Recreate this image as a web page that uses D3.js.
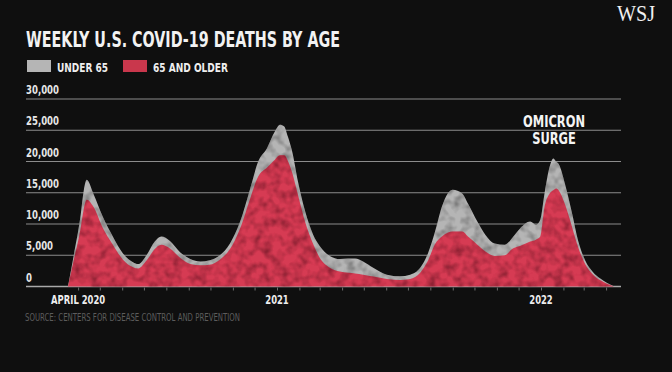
<!DOCTYPE html>
<html>
<head>
<meta charset="utf-8">
<script src="https://cdn.jsdelivr.net/npm/d3@7"></script>
<style>
  html, body { margin: 0; padding: 0; background: #0f0f0f; }
  svg { display: block; }
</style>
</head>
<body>
<svg id="chart" width="672" height="372"></svg>
<script>
// ---- data ----
const weeks = [
  "2020-03-18","2020-03-26","2020-04-04","2020-04-09","2020-04-13","2020-04-22","2020-05-05","2020-05-19","2020-06-02","2020-06-16",
  "2020-06-23","2020-07-05","2020-07-16","2020-07-25","2020-08-06","2020-08-20","2020-09-03","2020-09-17","2020-09-30","2020-10-14",
  "2020-10-28","2020-11-11","2020-11-25","2020-12-06","2020-12-18","2020-12-29","2021-01-05","2021-01-11","2021-01-16","2021-01-22",
  "2021-01-30","2021-02-09","2021-02-20","2021-03-01","2021-03-15","2021-03-29","2021-04-09","2021-04-19","2021-04-30","2021-05-14",
  "2021-06-02","2021-06-20","2021-07-04","2021-07-18","2021-07-29","2021-08-07","2021-08-17","2021-08-25","2021-09-01","2021-09-14",
  "2021-09-22","2021-10-05","2021-10-16","2021-10-29","2021-11-12","2021-11-23","2021-12-03","2021-12-17","2021-12-25","2021-12-31",
  "2022-01-06","2022-01-13","2022-01-18","2022-01-22","2022-01-26","2022-02-03","2022-02-13","2022-02-21","2022-03-03","2022-03-14",
  "2022-03-24","2022-04-02","2022-04-11"
];
const age65Plus = [
  0,4200,9000,12500,13900,12800,9400,6700,4300,3100,
  2900,4200,6000,6700,6100,4600,3600,3400,3500,4300,
  6000,9300,14100,17600,19000,20300,21000,21000,20100,18200,
  14650,10300,6800,4600,3000,2400,2200,2100,1900,1600,
  1200,1050,1200,2200,4200,6700,8000,8600,8800,8800,
  8000,6700,5600,4900,5000,6100,6500,7200,7500,8000,
  12800,14900,15400,15700,15300,13200,9500,6400,3600,1900,
  1000,450,50
];
const under65 = [
  0,800,2000,3000,3200,2100,1800,1300,1000,800,
  700,900,1200,1300,1200,900,800,600,700,700,
  900,1100,1600,2400,3100,4500,4900,4600,3900,3400,
  2150,1700,1500,1900,1900,2000,2300,2400,2100,1400,
  700,600,700,800,1200,1900,4800,6300,6700,6100,
  5300,3700,2700,2000,1700,1800,2800,3200,2400,2700,
  2200,4300,5100,4300,4200,3300,2200,1100,600,400,
  300,150,30
];
const yTicks = [0, 5000, 10000, 15000, 20000, 25000, 30000];
const xLabelDates = ["2020-04-01", "2021-01-01", "2022-01-01"];
const xLabelTexts = ["APRIL 2020", "2021", "2022"];
const seriesNames = ["UNDER 65", "65 AND OLDER"];
const annotationLines = ["OMICRON", "SURGE"];
const annotationDate = "2022-01-19";
const annotationValue = 24700;

// ---- setup ----
const parse = d3.utcParse("%Y-%m-%d");
const data = weeks.map((w, i) => ({ date: parse(w), age65Plus: age65Plus[i], under65: under65[i] }));

const COND = "'Liberation Sans Narrow','Arial Narrow','DejaVu Sans Condensed',sans-serif";
const RED = "#d63b53";
const GRAY = "#b5b5b5";

const svg = d3.select("#chart");
svg.append("rect").attr("width", 672).attr("height", 372).attr("fill", "#0f0f0f");

const defs = svg.append("defs");
const f = defs.append("filter").attr("id", "tex")
  .attr("x", "0%").attr("y", "0%").attr("width", "100%").attr("height", "100%");
f.append("feTurbulence").attr("type", "fractalNoise").attr("baseFrequency", "0.11")
  .attr("numOctaves", 2).attr("seed", 7).attr("result", "n");
f.append("feColorMatrix").attr("in", "n").attr("type", "matrix")
  .attr("values", "0 0 0 0 0  0 0 0 0 0  0 0 0 0 0  1.3 0 0 0 -0.5").attr("result", "a");
f.append("feComposite").attr("in", "a").attr("in2", "SourceGraphic").attr("operator", "in").attr("result", "d");
const fm = f.append("feMerge");
fm.append("feMergeNode").attr("in", "SourceGraphic");
fm.append("feMergeNode").attr("in", "d");

const x = d3.scaleUtc()
  .domain([parse("2021-01-01"), parse("2022-01-01")])
  .range([277, 541]);
const y = d3.scaleLinear().domain([0, 30000]).range([286.5, 99]);
const gridX0 = 26, gridX1 = 621;

// squeeze a text horizontally by a factor (condensed look)
function squeeze(sel, k) {
  sel.each(function () {
    const w = this.getComputedTextLength();
    d3.select(this).attr("textLength", w * k).attr("lengthAdjust", "spacingAndGlyphs");
  });
}

// ---- title & legend ----
svg.append("text").attr("x", 26).attr("y", 47)
  .attr("font-family", COND).attr("font-weight", 700).attr("font-size", 21)
  .attr("fill", "#f2f2f2").attr("textLength", 314).attr("lengthAdjust", "spacingAndGlyphs")
  .text("WEEKLY U.S. COVID-19 DEATHS BY AGE");

const legendColors = [GRAY, "#c9374c"];
const legendX = [27, 123];
const legendW = [51, 75];
seriesNames.forEach((name, i) => {
  svg.append("rect").attr("x", legendX[i]).attr("y", 60).attr("width", 24).attr("height", 12)
    .attr("fill", legendColors[i]);
  svg.append("text").attr("x", legendX[i] + 30).attr("y", 71.5)
    .attr("font-family", COND).attr("font-weight", 700).attr("font-size", 12.5)
    .attr("fill", "#eeeeee").attr("textLength", legendW[i]).attr("lengthAdjust", "spacingAndGlyphs")
    .text(name);
});

// ---- gridlines & y labels ----
const grid = svg.append("g");
yTicks.forEach(t => {
  grid.append("line").attr("x1", gridX0).attr("x2", gridX1)
    .attr("y1", y(t)).attr("y2", y(t))
    .attr("stroke", t === 0 ? "#a9a9a9" : "#8c8c8c").attr("stroke-width", t === 0 ? 1.5 : 1);
});
const yLabels = grid.selectAll("text.ylab").data(yTicks).join("text").attr("class", "ylab")
  .attr("x", 26).attr("y", t => y(t) - 5)
  .attr("font-family", COND).attr("font-weight", 700).attr("font-size", 12.5)
  .attr("fill", "#e6e6e6").text(t => d3.format(",")(t));
{
  const ref = yLabels.filter(t => t === 30000).node().getComputedTextLength();
  squeeze(yLabels, 33 / ref);
}

// ---- areas ----
const stack = d3.stack().keys(["age65Plus", "under65"]);
const series = stack(data);
const curve = d3.curveMonotoneX;

const grayArea = d3.area().curve(curve)
  .x(d => x(d.data.date)).y0(y(0)).y1(d => y(d[1]));
const redArea = d3.area().curve(curve)
  .x(d => x(d.data.date)).y0(d => y(d[0])).y1(d => y(d[1]));

svg.append("path").datum(series[1]).attr("d", grayArea)
  .attr("fill", GRAY).attr("filter", "url(#tex)");
svg.append("path").datum(series[0]).attr("d", redArea)
  .attr("fill", RED).attr("filter", "url(#tex)");

// ---- x axis ticks & labels ----
const xAxis = d3.axisBottom(x)
  .tickValues(d3.utcMonth.range(parse("2020-04-01"), parse("2022-04-02")))
  .tickSize(3).tickFormat("");
const gx = svg.append("g").attr("transform", `translate(0,${y(0) + 1})`).call(xAxis);
gx.select(".domain").remove();
gx.selectAll(".tick line").attr("stroke", "#6e6e6e");

const xLabs = svg.selectAll("text.xlab").data(xLabelDates).join("text").attr("class", "xlab")
  .attr("x", d => x(parse(d))).attr("y", 303.5)
  .attr("text-anchor", "middle")
  .attr("font-family", COND).attr("font-weight", 700).attr("font-size", 12)
  .attr("fill", "#ededed").text((d, i) => xLabelTexts[i]);
{
  const ref = xLabs.filter((d, i) => i === 0).node().getComputedTextLength();
  squeeze(xLabs, 54 / ref);
}

// ---- annotation ----
const ann = svg.selectAll("text.ann").data(annotationLines).join("text").attr("class", "ann")
  .attr("x", x(parse(annotationDate)))
  .attr("y", (t, i) => y(annotationValue) - 5 + i * 17)
  .attr("text-anchor", "middle")
  .attr("font-family", COND).attr("font-weight", 700).attr("font-size", 15)
  .attr("fill", "#f4f4f4").text(t => t);
{
  const ref = ann.filter((t, i) => i === 0).node().getComputedTextLength();
  squeeze(ann, 62 / ref);
}

// ---- source & logo ----
svg.append("text").attr("x", 25).attr("y", 320.5)
  .attr("font-family", COND).attr("font-size", 10)
  .attr("fill", "#5c5c5c").attr("textLength", 215).attr("lengthAdjust", "spacingAndGlyphs")
  .text("SOURCE: CENTERS FOR DISEASE CONTROL AND PREVENTION");

svg.append("text").attr("x", 617).attr("y", 21)
  .attr("font-family", "'Liberation Serif','DejaVu Serif',serif").attr("font-size", 24)
  .attr("fill", "#f0f0f0").attr("textLength", 38).attr("lengthAdjust", "spacingAndGlyphs")
  .text("WSJ");
</script>
</body>
</html>
